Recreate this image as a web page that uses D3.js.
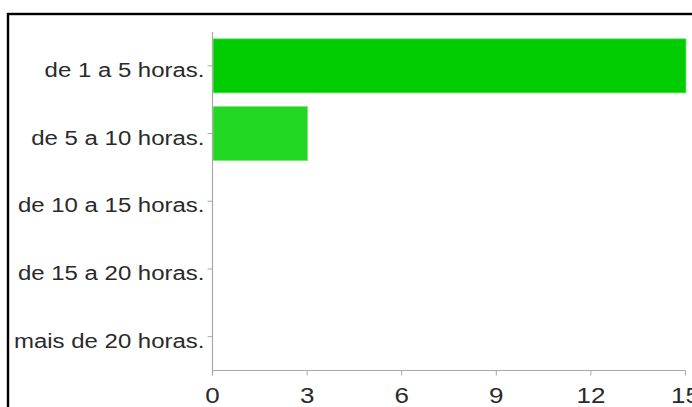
<!DOCTYPE html>
<html>
<head>
<meta charset="utf-8">
<script src="https://cdn.jsdelivr.net/npm/d3@7"></script>
<style>
  html, body { margin: 0; padding: 0; background: #fff; overflow: hidden; }
  svg { display: block; }
</style>
</head>
<body>
<svg id="chart" width="692" height="407"></svg>
<script>
// Hours-per-week answers and their response counts
const categories = ["de 1 a 5 horas.", "de 5 a 10 horas.", "de 10 a 15 horas.", "de 15 a 20 horas.", "mais de 20 horas."];
const counts = [15, 3, 0, 0, 0];
const barColors = ["#00cc00", "#22d622", "#22d622", "#22d622", "#22d622"];
const xTicks = [0, 3, 6, 9, 12, 15];

const svg = d3.select("#chart");

// Outer frame
svg.append("rect")
  .attr("x", 8).attr("y", 14)
  .attr("width", 720).attr("height", 440)
  .attr("fill", "#fff")
  .attr("stroke", "#000")
  .attr("stroke-width", 2.4);

const plot = { left: 212.5, right: 685.5, top: 32, bottom: 370.5 };

const x = d3.scaleLinear().domain([0, 15]).range([plot.left, plot.right]);
const y = d3.scaleBand().domain(categories).range([plot.top, plot.bottom]).paddingInner(0.2).paddingOuter(0.1);

const labelColor = "#2a2a2a";
const axisColor = "#a8a8a8";

// Bars
svg.append("g").selectAll("rect")
  .data(categories)
  .join("rect")
  .attr("x", x(0) + 0.5)
  .attr("y", d => y(d))
  .attr("width", (d, i) => Math.max(0, x(counts[i]) - x(0)))
  .attr("height", y.bandwidth())
  .attr("fill", (d, i) => barColors[i])
  .attr("stroke", (d, i) => counts[i] > 0 ? "#7ee87e" : "none")
  .attr("stroke-width", 0.8);

// Vertical axis
const yAxis = svg.append("g");
yAxis.append("line")
  .attr("x1", plot.left).attr("x2", plot.left)
  .attr("y1", plot.top).attr("y2", plot.bottom + 5)
  .attr("stroke", axisColor).attr("stroke-width", 1.2);
yAxis.selectAll("line.tick")
  .data(categories)
  .join("line")
  .attr("class", "tick")
  .attr("x1", plot.left - 5).attr("x2", plot.left)
  .attr("y1", d => y(d) + y.bandwidth() / 2)
  .attr("y2", d => y(d) + y.bandwidth() / 2)
  .attr("stroke", axisColor).attr("stroke-width", 1);
yAxis.selectAll("text")
  .data(categories)
  .join("text")
  .attr("transform", d => `translate(${plot.left - 8},${y(d) + y.bandwidth() / 2 + 11}) scale(1.23,1)`)
  .attr("text-anchor", "end")
  .attr("font-family", "'Liberation Sans', Arial, sans-serif")
  .attr("font-size", 19.5)
  .attr("fill", labelColor)
  .text(d => d);

// Horizontal axis
const xAxis = svg.append("g");
xAxis.append("line")
  .attr("x1", plot.left).attr("x2", plot.right)
  .attr("y1", plot.bottom).attr("y2", plot.bottom)
  .attr("stroke", axisColor).attr("stroke-width", 1.2);
xAxis.selectAll("line.tick")
  .data(xTicks)
  .join("line")
  .attr("class", "tick")
  .attr("x1", d => x(d)).attr("x2", d => x(d))
  .attr("y1", plot.bottom).attr("y2", plot.bottom + 5)
  .attr("stroke", axisColor).attr("stroke-width", 1);
xAxis.selectAll("text")
  .data(xTicks)
  .join("text")
  .attr("transform", d => `translate(${x(d)},${plot.bottom + 32}) scale(1.18,1)`)
  .attr("text-anchor", "middle")
  .attr("font-family", "'Liberation Sans', Arial, sans-serif")
  .attr("font-size", 22)
  .attr("fill", labelColor)
  .text(d => d);
</script>
</body>
</html>
